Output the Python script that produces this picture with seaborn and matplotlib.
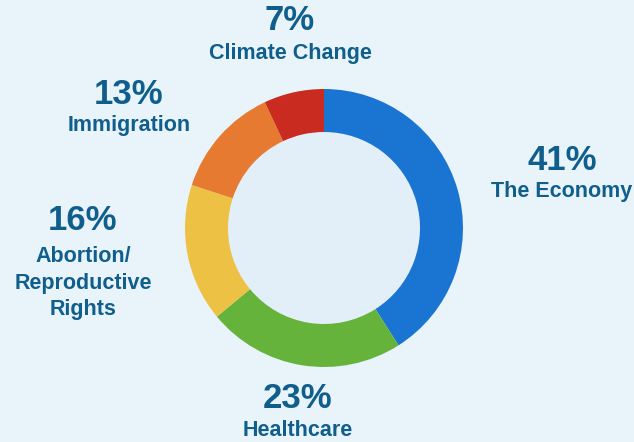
import matplotlib
matplotlib.use("Agg")
import matplotlib.pyplot as plt
import seaborn as sns

categories = ["The Economy", "Healthcare", "Abortion/\nReproductive\nRights", "Immigration", "Climate Change"]
shares = [41, 23, 16, 13, 7]
colors = ["#1a75d2", "#65b33b", "#edc244", "#e77a31", "#c92b20"]

sns.set_style("white")
plt.rcParams["font.family"] = ["Liberation Sans", "DejaVu Sans"]

bg = "#e8f3fa"
txt = "#0f5e8c"
W, H = 634, 442

fig = plt.figure(figsize=(W / 100, H / 100), dpi=100, facecolor=bg)
ax = fig.add_axes([0, 0, 1, 1])
ax.set_facecolor(bg)

cx, cy, r = 324, H - 228, 139
ax.add_patch(plt.Circle((cx, cy), r - 42, color="#e2eef8", zorder=0))
ax.pie(shares, colors=colors, startangle=90, counterclock=False,
       center=(cx, cy), radius=r, frame=True,
       wedgeprops=dict(width=43, linewidth=0))
ax.set_xlim(0, W)
ax.set_ylim(0, H)
ax.set_aspect("equal")
ax.axis("off")

# label anchor points (pixel coords from top-left): x, percent y, name y
label_pos = [(562, 160, 191), (298, 398, 430), (83, 221, 283), (129, 95, 126), (290, 20, 53)]
for cat, val, (x, yp, yl) in zip(categories, shares, label_pos):
    ax.text(x, H - yp, f"{val}%", ha="center", va="center", color=txt,
            fontsize=25, fontweight="bold")
    ax.text(x, H - yl, cat, ha="center", va="center", multialignment="center",
            color=txt, fontsize=15.5, fontweight="bold", linespacing=1.35)

fig.savefig("out.png", dpi=100, facecolor=bg)
